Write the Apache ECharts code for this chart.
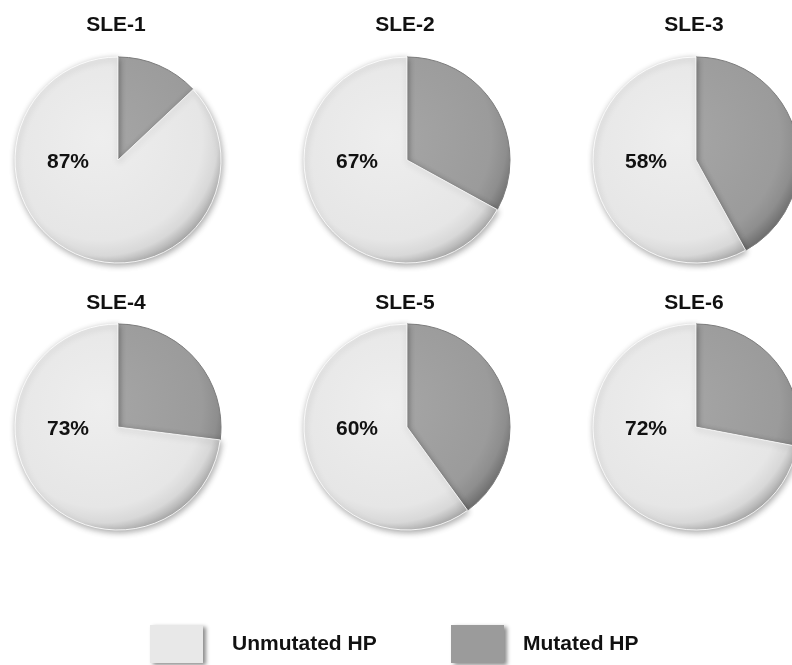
<!DOCTYPE html>
<html>
<head>
<meta charset="utf-8">
<script src="https://cdn.jsdelivr.net/npm/echarts@6/dist/echarts.min.js"></script>
<style>
  html, body { margin: 0; padding: 0; background: #ffffff; }
  #chart { width: 792px; height: 665px; }
</style>
</head>
<body>
<div id="chart"></div>
<script>
// Share of unmutated vs. mutated HP per SLE patient (percent)
const patients  = ['SLE-1', 'SLE-2', 'SLE-3', 'SLE-4', 'SLE-5', 'SLE-6'];
const unmutated = [87, 67, 58, 73, 60, 72];
const mutated   = [13, 33, 42, 27, 40, 28];
const legendNames = ['Unmutated HP', 'Mutated HP'];

// grid layout of the six pies
const colX = [118, 407, 696];
const rowY = [160, 427];
const titleY = [25, 303];
const R = 103;
const FONT = '"Liberation Sans", Arial, Helvetica, sans-serif';

const chart = echarts.init(document.getElementById('chart'), null, { renderer: 'canvas' });

function shade(cx, cy, stops) {
  return {
    type: 'radial', x: cx - 18, y: cy - 22, r: R + 28, global: true,
    colorStops: stops
  };
}

const series = [];
const graphics = [];

patients.forEach((name, i) => {
  const cx = colX[i % 3];
  const cy = rowY[Math.floor(i / 3)];
  const ty = titleY[Math.floor(i / 3)];

  series.push({
    type: 'pie',
    name: name,
    center: [cx, cy],
    radius: [0, R],
    startAngle: 90,
    clockwise: true,
    silent: true,
    animation: false,
    label: { show: false },
    labelLine: { show: false },
    data: [
      {
        name: legendNames[1], value: mutated[i],
        itemStyle: {
          color: shade(cx, cy, [
            { offset: 0, color: '#a6a6a6' },
            { offset: 0.78, color: '#9b9b9b' },
            { offset: 0.9, color: '#8e8e8e' },
            { offset: 1, color: '#6e6e6e' }
          ]),
          borderColor: '#7c7c7c', borderWidth: 1
        }
      },
      {
        name: legendNames[0], value: unmutated[i],
        itemStyle: {
          color: shade(cx, cy, [
            { offset: 0, color: '#eeeeee' },
            { offset: 0.78, color: '#e6e6e6' },
            { offset: 0.9, color: '#d8d8d8' },
            { offset: 1, color: '#a9a9a9' }
          ]),
          borderColor: 'rgba(255,255,255,0.85)', borderWidth: 1,
          shadowBlur: 6, shadowOffsetX: 1, shadowOffsetY: 2,
          shadowColor: 'rgba(0,0,0,0.35)'
        }
      }
    ]
  });

  // patient heading
  graphics.push({
    type: 'text',
    x: cx - 2, y: ty,
    z: 100,
    style: {
      text: name,
      textAlign: 'center', textVerticalAlign: 'middle',
      fontFamily: FONT, fontWeight: 'bold', fontSize: 21,
      fill: '#111111'
    }
  });

  // unmutated share printed inside the pie
  graphics.push({
    type: 'text',
    x: cx - 50, y: cy + 2,
    z: 100,
    style: {
      text: unmutated[i] + '%',
      textAlign: 'center', textVerticalAlign: 'middle',
      fontFamily: FONT, fontWeight: 'bold', fontSize: 21,
      fill: '#111111'
    }
  });
});

// legend swatches and labels
const legendItems = [
  { name: legendNames[0], color: '#e8e8e8', x: 150, tx: 232 },
  { name: legendNames[1], color: '#9b9b9b', x: 451, tx: 523 }
];
legendItems.forEach(it => {
  graphics.push({
    type: 'rect',
    shape: { x: it.x, y: 625, width: 53, height: 38 },
    style: {
      fill: it.color,
      shadowBlur: 4, shadowOffsetX: 3, shadowOffsetY: 2,
      shadowColor: 'rgba(0,0,0,0.45)'
    }
  });
  graphics.push({
    type: 'text',
    x: it.tx, y: 644,
    style: {
      text: it.name,
      textAlign: 'left', textVerticalAlign: 'middle',
      fontFamily: FONT, fontWeight: 'bold', fontSize: 21,
      fill: '#111111'
    }
  });
});

chart.setOption({
  backgroundColor: '#ffffff',
  animation: false,
  series: series,
  graphic: graphics
});
</script>
</body>
</html>
